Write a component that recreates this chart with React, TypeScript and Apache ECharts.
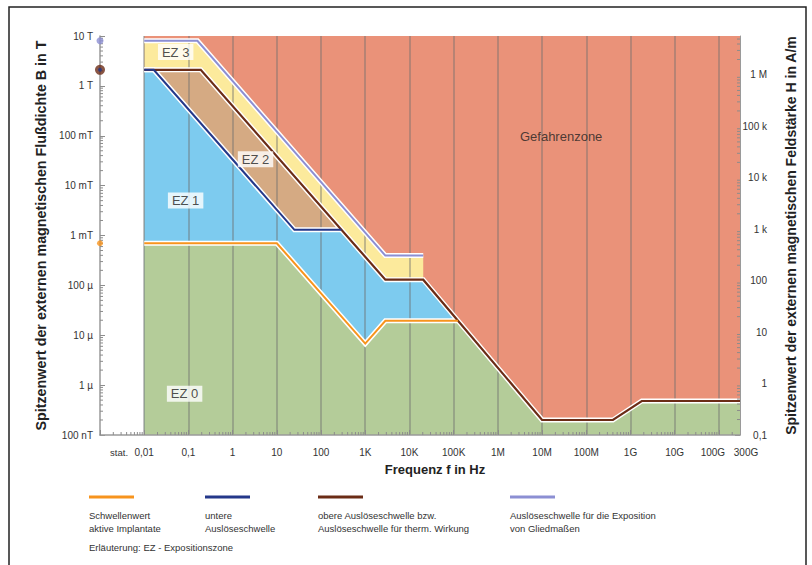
import React, { useEffect, useRef } from "react";
import * as echarts from "echarts";

// ---------- axis ticks ----------
const xTickFreqs = [0.01, 0.1, 1, 10, 100, 1e3, 1e4, 1e5, 1e6, 1e7, 1e8, 1e9, 1e10, 1e11];
const xTickLabels = ["0,01", "0,1", "1", "10", "100", "1K", "10K", "100K", "1M", "10M", "100M", "1G", "10G", "100G"];
const xEndFreq = 3e11;
const xEndLabel = "300G";
const xStatLabel = "stat.";
const bTickValues = [1e-7, 1e-6, 1e-5, 1e-4, 1e-3, 1e-2, 1e-1, 1, 10];
const bTickLabels = ["100 nT", "1 µ", "10 µ", "100 µ", "1 mT", "10 mT", "100 mT", "1 T", "10 T"];
const hTickValues = [0.1, 1, 10, 100, 1e3, 1e4, 1e5, 1e6];
const hTickLabels = ["0,1", "1", "10", "100", "1 k", "10 k", "100 k", "1 M"];

// ---------- threshold curves (f in Hz, B in T, peak values) ----------
const limbFreq = [0.01, 0.16, 2850, 20500];
const limbB = [8, 8, 3.96e-4, 3.96e-4];
const upperFreq = [0.01, 0.19, 2850, 20500, 1e7, 4e8, 1.8e9, 3e11];
const upperB = [2.1, 2.1, 1.3e-4, 1.3e-4, 2e-7, 2e-7, 4.8e-7, 4.8e-7];
const lowerFreq = [0.01, 0.0164, 25, 290];
const lowerB = [2.1, 2.1, 1.3e-3, 1.3e-3];
const implantFreq = [0.01, 10, 1000, 2850, 1.26e5];
const implantB = [7e-4, 7e-4, 6.8e-6, 1.95e-5, 1.95e-5];

// static values (shown on the B axis, "stat.")
const staticLimbB = 8;
const staticUpperB = 2.1;
const staticImplantB = 7e-4;

// zone labels
const zoneNames = ["EZ 3", "EZ 2", "EZ 1", "EZ 0", "Gefahrenzone"];
const zoneFreq = [0.0515, 3.3, 0.0865, 0.082, 2.7e7];
const zoneB = [4.77, 0.0337, 5.06e-3, 6.7e-7, 0.0977];

// legend
const legendNames = [
  ["Schwellenwert", "aktive Implantate"],
  ["untere", "Auslöseschwelle"],
  ["obere Auslöseschwelle bzw.", "Auslöseschwelle für therm. Wirkung"],
  ["Auslöseschwelle für die Exposition", "von Gliedmaßen"],
];
const legendNote = "Erläuterung: EZ - Expositionszone";

const C = {
  red: "#EA9279",
  yellow: "#FCEA9C",
  tan: "#D5AA83",
  blue: "#7DCBEF",
  green: "#B4CC99",
  orange: "#F7941D",
  navy: "#24388A",
  brown: "#6B2C16",
  purple: "#8C8FD3",
};

const FONT = "'Liberation Sans', Arial, Helvetica, sans-serif";
const L = (v: number) => Math.log10(v);
const X_MIN = -3;
const X_MAX = L(xEndFreq);
const Y_MIN = -7;
const Y_MAX = 1;
const R_MIN = -1;
const R_MAX = 6.758;

function pts(f: number[], b: number[]) {
  return f.map((v, i) => [L(v), L(b[i])]);
}

function lookup(values: number[], labels: string[], v: number) {
  for (let i = 0; i < values.length; i++) {
    if (Math.abs(L(values[i]) - v) < 0.01) return labels[i];
  }
  return "";
}

export default function App() {
  const ref = useRef<HTMLDivElement>(null);
  useEffect(() => {
    if (!ref.current) return;
    const chart = echarts.init(ref.current, null, { renderer: "svg" });

    const limbPts = pts(limbFreq, limbB);
    const upperPts = pts(upperFreq, upperB);
    const lowerPts = pts(lowerFreq, lowerB);
    const implantPts = pts(implantFreq, implantB);
    const lowerEnd = lowerFreq[lowerFreq.length - 1];
    const implantEnd = implantFreq[implantFreq.length - 1];
    const blueBoundary = lowerPts.concat(pts(upperFreq.filter((f) => f > lowerEnd), upperB.filter((_, i) => upperFreq[i] > lowerEnd)));
    const greenBoundary = implantPts.concat(pts(upperFreq.filter((f) => f > implantEnd), upperB.filter((_, i) => upperFreq[i] > implantEnd)));
    const redBoundary = [[L(0.01), Y_MAX], [X_MAX, Y_MAX]];

    const fill = (data: number[][], color: string) => ({
      type: "line",
      data,
      symbol: "none",
      silent: true,
      z: 1,
      lineStyle: { width: 0 },
      areaStyle: { color, opacity: 1, origin: "start" },
    });
    const line = (data: number[][], color: string, z: number, width: number) => ({
      type: "line",
      data,
      symbol: "none",
      silent: true,
      z,
      lineStyle: { color, width, join: "miter" },
    });

    const minorTicks = {
      type: "custom",
      silent: true,
      z: 6,
      data: [[0, 0]],
      renderItem: (_p: any, api: any) => {
        const children: any[] = [];
        const st = { stroke: "#8c8c8c", lineWidth: 1 };
        for (let d = -3; d <= 11; d++) {
          for (let k = 2; k <= 9; k++) {
            const v = d + L(k);
            if (v >= X_MAX) continue;
            const p = api.coord([v, Y_MIN]);
            children.push({ type: "line", shape: { x1: p[0], y1: p[1], x2: p[0], y2: p[1] - 3 }, style: st });
          }
        }
        for (let d = -7; d < 1; d++) {
          for (let k = 2; k <= 9; k++) {
            const v = d + L(k);
            const p = api.coord([X_MIN, v]);
            children.push({ type: "line", shape: { x1: p[0], y1: p[1], x2: p[0] + 3, y2: p[1] }, style: st });
          }
        }
        return { type: "group", children };
      },
    };
    const minorTicksRight = {
      type: "custom",
      silent: true,
      z: 6,
      yAxisIndex: 1,
      data: [[0, 0]],
      renderItem: (_p: any, api: any) => {
        const children: any[] = [];
        const st = { stroke: "#8c8c8c", lineWidth: 1 };
        for (let d = -1; d <= 6; d++) {
          for (let k = 2; k <= 9; k++) {
            const v = d + L(k);
            if (v >= R_MAX) continue;
            const p = api.coord([X_MAX, v]);
            children.push({ type: "line", shape: { x1: p[0], y1: p[1], x2: p[0] - 3, y2: p[1] }, style: st });
          }
        }
        return { type: "group", children };
      },
    };

    const zoneData = zoneNames.map((n, i) => ({
      value: [L(zoneFreq[i]), L(zoneB[i])],
      name: n,
      label: i === 4 ? { backgroundColor: "transparent" } : {},
    }));

    const lastTick = xTickLabels[xTickLabels.length - 1];

    const option: any = {
      animation: false,
      grid: { left: 100, right: 72, top: 36, bottom: 130, containLabel: false },
      xAxis: {
        type: "value",
        min: X_MIN,
        max: X_MAX,
        interval: 1,
        z: 3,
        name: "Frequenz f in Hz",
        nameLocation: "middle",
        nameGap: 28,
        nameTextStyle: { fontFamily: FONT, fontWeight: "bold", fontSize: 13, color: "#222", padding: [0, 0, 0, 30] },
        axisLine: { show: true, onZero: false, lineStyle: { color: "#9a9a9a", width: 1.5 } },
        axisTick: { show: true, inside: true, length: 5, lineStyle: { color: "#8c8c8c" } },
        axisLabel: {
          margin: 12,
          fontFamily: FONT,
          fontSize: 10,
          color: "#333",
          showMaxLabel: false,
          formatter: (v: number) => {
            const s = lookup(xTickFreqs, xTickLabels, v);
            return s === lastTick ? "{s|" + s + "}" : s;
          },
          rich: { s: { fontFamily: FONT, fontSize: 10, color: "#333", padding: [0, 12, 0, 0] } },
        },
        splitLine: { show: true, showMinLine: false, showMaxLine: false, lineStyle: { color: "rgba(110,110,110,0.55)", width: 1.5 } },
      },
      yAxis: [
        {
          type: "value",
          min: Y_MIN,
          max: Y_MAX,
          interval: 1,
          position: "left",
          name: "Spitzenwert der externen magnetischen Flußdichte B in T",
          nameLocation: "middle",
          nameRotate: 90,
          nameGap: 50,
          nameTextStyle: { fontFamily: FONT, fontWeight: "bold", fontSize: 14.3, color: "#222" },
          axisLine: { show: true, onZero: false, lineStyle: { color: "#9a9a9a", width: 1.5 } },
          axisTick: { show: true, inside: true, length: 5, lineStyle: { color: "#8c8c8c" } },
          axisLabel: { margin: 7, fontFamily: FONT, fontSize: 10, color: "#333", formatter: (v: number) => lookup(bTickValues, bTickLabels, v) },
          splitLine: { show: false },
        },
        {
          type: "value",
          min: R_MIN,
          max: R_MAX,
          interval: 1,
          position: "right",
          name: "Spitzenwert der externen magnetischen Feldstärke H in A/m",
          nameLocation: "middle",
          nameRotate: 90,
          nameGap: 44,
          nameTextStyle: { fontFamily: FONT, fontWeight: "bold", fontSize: 14, color: "#222" },
          axisLine: { show: true, onZero: false, lineStyle: { color: "#9a9a9a", width: 1 } },
          axisTick: { show: true, inside: true, length: 5, lineStyle: { color: "#8c8c8c" } },
          axisLabel: { margin: 27, align: "right", fontFamily: FONT, fontSize: 10, color: "#333", formatter: (v: number) => lookup(hTickValues, hTickLabels, v) },
          splitLine: { show: false },
        },
      ],
      series: [
        fill(redBoundary, C.red),
        fill(limbPts, C.yellow),
        fill(upperPts, C.tan),
        fill(blueBoundary, C.blue),
        fill(greenBoundary, C.green),
        line(limbPts, "#ffffff", 4, 5),
        line(limbPts, C.purple, 5, 2),
        line(upperPts, "#ffffff", 4, 5),
        line(upperPts, C.brown, 5, 2.2),
        line(lowerPts, "#ffffff", 4, 5),
        line(lowerPts, C.navy, 5, 2),
        line(implantPts, "#ffffff", 4, 5),
        line(implantPts, C.orange, 5, 2),
        { type: "scatter", z: 7, silent: true, data: [[X_MIN, L(staticLimbB)]], symbolSize: 7, itemStyle: { color: C.purple } },
        { type: "scatter", z: 7, silent: true, data: [[X_MIN, L(staticUpperB)]], symbolSize: 10, itemStyle: { color: C.brown } },
        { type: "scatter", z: 8, silent: true, data: [[X_MIN, L(staticUpperB)]], symbolSize: 4, itemStyle: { color: C.navy } },
        { type: "scatter", z: 7, silent: true, data: [[X_MIN, L(staticImplantB)]], symbolSize: 6, itemStyle: { color: C.orange } },
        {
          type: "scatter",
          z: 9,
          silent: true,
          symbolSize: 0,
          data: zoneData,
          label: {
            show: true,
            position: "inside",
            formatter: (p: any) => p.name,
            fontFamily: FONT,
            fontSize: 13,
            color: "#222",
            backgroundColor: "#ffffff",
            padding: [2, 4, 1, 4],
          },
        },
        minorTicks,
        minorTicksRight,
      ],
    };
    chart.setOption(option);

    const statPos = chart.convertToPixel({ xAxisIndex: 0, yAxisIndex: 0 }, [L(0.0027), Y_MIN]) as number[];
    const endPos = chart.convertToPixel({ xAxisIndex: 0, yAxisIndex: 0 }, [X_MAX, Y_MIN]) as number[];
    const legendX = [89, 205, 318, 510];
    const legendColors = [C.orange, C.navy, C.brown, C.purple];
    const graphic: any[] = [
      {
        type: "rect",
        shape: { x: 9, y: 7, width: 797, height: 580 },
        style: { fill: "none", stroke: "#222", lineWidth: 1.5 },
        silent: true,
      },
      {
        type: "text",
        x: statPos[0],
        y: statPos[1] + 12,
        style: { text: xStatLabel, fontFamily: FONT, fontSize: 9.5, fill: "#333", align: "center", verticalAlign: "top" },
        silent: true,
      },
      {
        type: "text",
        x: endPos[0] + 6,
        y: endPos[1] + 12,
        style: { text: xEndLabel, fontFamily: FONT, fontSize: 10, fill: "#333", align: "center", verticalAlign: "top" },
        silent: true,
      },
    ];
    legendNames.forEach((lines, i) => {
      graphic.push({
        type: "line",
        shape: { x1: legendX[i], y1: 497, x2: legendX[i] + 45, y2: 497 },
        style: { stroke: legendColors[i], lineWidth: 3 },
        silent: true,
      });
      lines.forEach((t, j) => {
        graphic.push({
          type: "text",
          x: legendX[i],
          y: 510 + j * 13,
          style: { text: t, fontFamily: FONT, fontSize: 9.5, fill: "#333" },
          silent: true,
        });
      });
    });
    graphic.push({
      type: "text",
      x: 89,
      y: 542,
      style: { text: legendNote, fontFamily: FONT, fontSize: 9.5, fill: "#333" },
      silent: true,
    });
    chart.setOption({ graphic });

    return () => chart.dispose();
  }, []);

  return <div ref={ref} style={{ position: "absolute", left: 0, top: 0, width: 812, height: 565, background: "#fff" }} />;
}
